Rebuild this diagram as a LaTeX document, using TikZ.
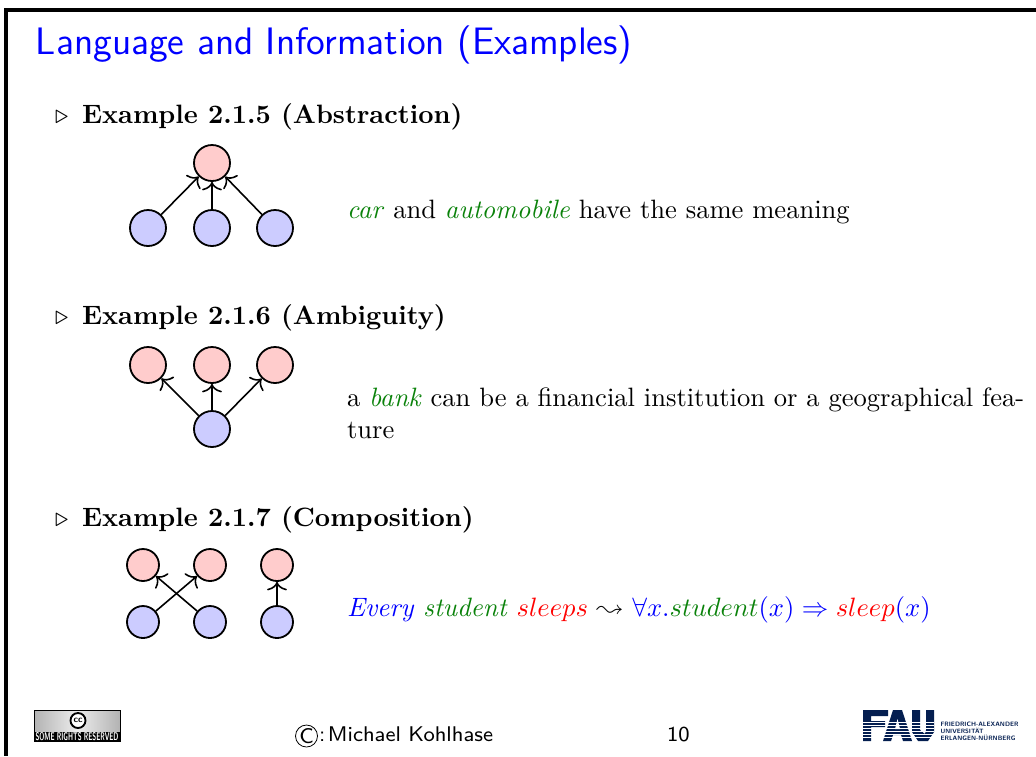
\documentclass[tikz,border=0pt]{standalone}
\usepackage{latexsym}
\usetikzlibrary{arrows.meta}
\definecolor{pinkn}{RGB}{255,204,204}
\definecolor{bluen}{RGB}{204,204,255}
\definecolor{grn}{RGB}{10,130,10}
\definecolor{faub}{RGB}{4,30,80}
\newcommand{\gr}[1]{\textcolor{grn}{\textit{#1}}}
\newlength{\pxu}\setlength{\pxu}{0.3765pt}
\begin{document}
\begin{tikzpicture}[x=\pxu,y=-\pxu,
  txt/.style={anchor=base west,inner sep=0pt,outer sep=0pt,font=\normalsize},
  head/.style={txt,font=\normalsize\bfseries},
  foot/.style={txt,font=\footnotesize\sffamily},
  pk/.style={circle,draw=black,fill=pinkn,line width=0.68pt,minimum size=36\pxu,inner sep=0pt},
  bl/.style={circle,draw=black,fill=bluen,line width=0.68pt,minimum size=36\pxu,inner sep=0pt},
  pks/.style={pk,minimum size=32\pxu},
  bls/.style={bl,minimum size=32\pxu},
  con/.style={-{Computer Modern Rightarrow[length=3.2pt,width=7.5pt]},line width=0.6pt}]
\useasboundingbox (0,0) rectangle (1036,756);
% frame
\fill[black] (4,8) rectangle (1036,12);
\fill[black] (4,8) rectangle (8,756);
\node[txt,font=\Large\sffamily,text=blue] (title) at (36,54) {Language and Information (Examples)};
% Example 1
\node[txt] (b1) at (55,123) {$\triangleright$};
\node[head] (h1) at (82,123) {Example 2.1.5 (Abstraction)};
\node[pk] (a0) at (212,163) {};
\node[bl] (a1) at (148,228) {};
\node[bl] (a2) at (212,228) {};
\node[bl] (a3) at (275,228) {};
\draw[con] (a1) -- (a0);
\draw[con] (a2) -- (a0);
\draw[con] (a3) -- (a0);
\node[txt] (t1) at (347,218) {\gr{car} and \gr{automobile} have the same meaning};
% Example 2
\node[txt] (b2) at (55,324) {$\triangleright$};
\node[head] (h2) at (82,324) {Example 2.1.6 (Ambiguity)};
\node[pk] (c1) at (148,365) {};
\node[pk] (c2) at (212,365) {};
\node[pk] (c3) at (275,365) {};
\node[bl] (c0) at (212,429) {};
\draw[con] (c0) -- (c1);
\draw[con] (c0) -- (c2);
\draw[con] (c0) -- (c3);
\node[txt] (t2) at (347,406) {a \gr{bank} can be a financial institution or a geographical fea-};
\node[txt] (t3) at (347,438) {ture};
% Example 3
\node[txt] (b3) at (55,526) {$\triangleright$};
\node[head] (h3) at (82,526) {Example 2.1.7 (Composition)};
\node[pks] (d1) at (143,565) {};
\node[pks] (d2) at (210,565) {};
\node[pks] (d3) at (277,565) {};
\node[bls] (e1) at (143,622) {};
\node[bls] (e2) at (210,622) {};
\node[bls] (e3) at (277,622) {};
\draw[con] (e1) -- (d2);
\draw[con] (e2) -- (d1);
\draw[con] (e3) -- (d3);
\node[txt] (t4) at (347,616) {\textcolor{blue}{\textit{Every}} \gr{student} $\textcolor{red}{sleeps}$ $\leadsto$ \textcolor{blue}{$\forall x.\textcolor{grn}{student}(x)\Rightarrow\textcolor{red}{sleep}(x)$}};
% CC badge
\shade[left color=gray!60,right color=gray!60,middle color=gray!15] (34,710) rectangle (120,732);
\fill[black] (34,732) rectangle (120,741);
\draw[black,line width=0.3pt] (34,710) rectangle (120,741);
\node[circle,draw=black,fill=white,line width=0.7pt,minimum size=15\pxu,inner sep=0pt] (cc) at (78,720.5) {\resizebox{9\pxu}{!}{\sffamily\bfseries cc}};
\node[inner sep=0pt,text=white] (ccl) at (77,736.5) {\resizebox{83\pxu}{8\pxu}{\sffamily\bfseries SOME RIGHTS RESERVED}};
% footer
\node[circle,draw=black,line width=0.3pt,minimum size=22\pxu,inner sep=0pt,font=\footnotesize\sffamily] (copy) at (306.5,736) {C};
\node[foot] (f1) at (319,741) {:\hspace{1pt}Michael Kohlhase};
\node[foot] (f2) at (667,741) {10};
% FAU logo
\fill[faub] (863,710) -- (888,710) -- (888,716) -- (871,716) -- (871,721) -- (885,721) -- (885,727) -- (871,727) -- (871,741) -- (863,741) -- cycle;
\fill[faub] (883,741) -- (893,710) -- (902,710) -- (912,741) -- (903,741) -- (901,735) -- (893,735) -- (891,741) -- cycle;
\fill[white] (895,729) -- (900,729) -- (897.5,719) -- cycle;
\fill[faub] (912,710) -- (920,710) -- (920,730) -- (925,734) -- (926,730) -- (926,710) -- (934,710) -- (934,732) -- (928,741) -- (918,741) -- (912,732) -- cycle;
\foreach \yy in {722,725,728,731,734,737}{\fill[white] (863,\yy) rectangle (934,\yy+0.9);}
\node[inner sep=0pt,anchor=base west,text=faub] (fau1) at (940,726) {\resizebox{78\pxu}{!}{\sffamily\bfseries FRIEDRICH-ALEXANDER}};
\node[inner sep=0pt,anchor=base west,text=faub] (fau2) at (940,733) {\resizebox{43\pxu}{!}{\sffamily\bfseries UNIVERSITÄT}};
\node[inner sep=0pt,anchor=base west,text=faub] (fau3) at (940,740) {\resizebox{75\pxu}{!}{\sffamily\bfseries ERLANGEN-NÜRNBERG}};
\end{tikzpicture}
\end{document}
